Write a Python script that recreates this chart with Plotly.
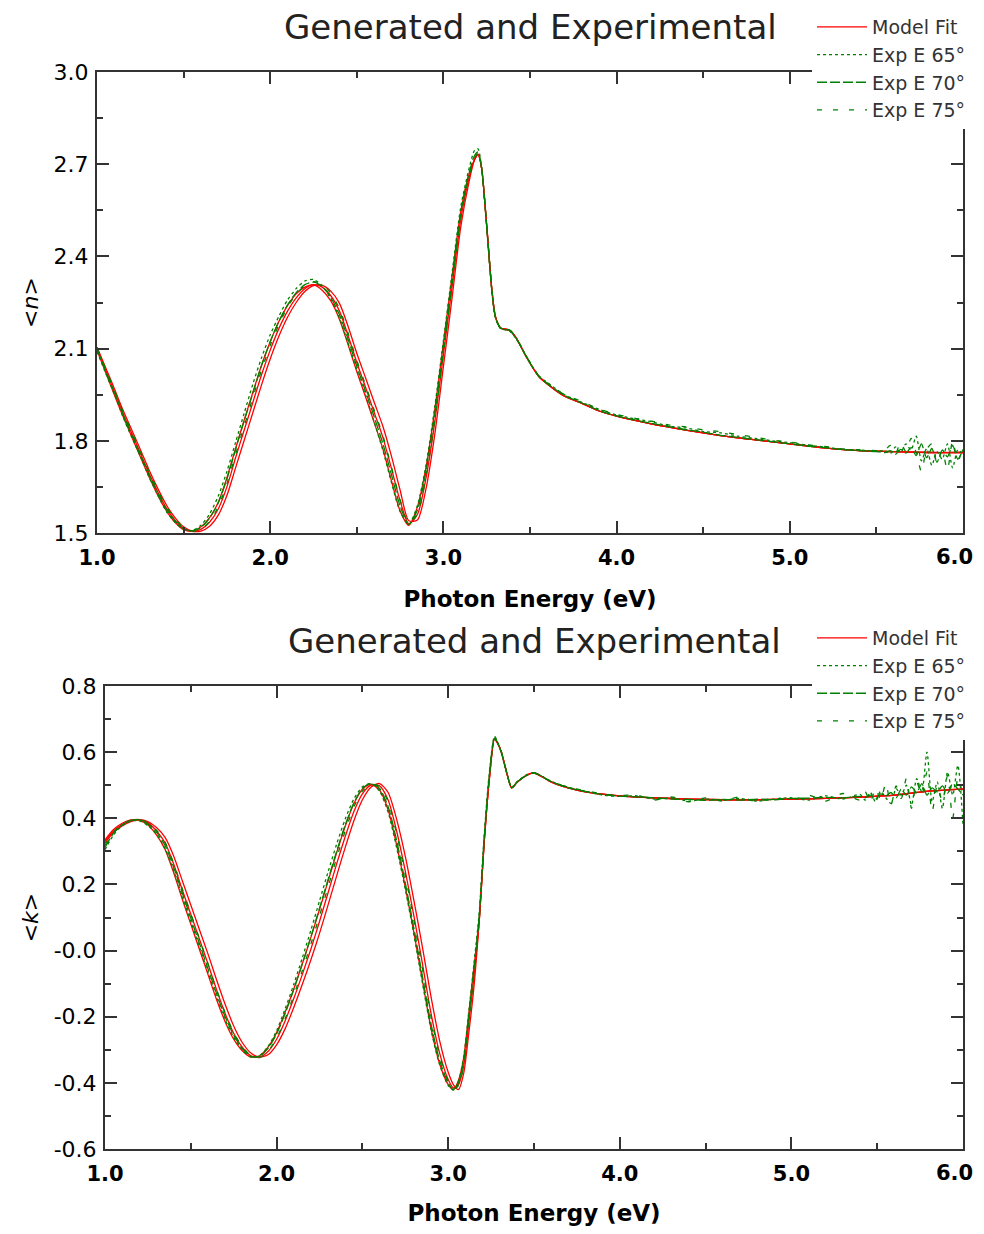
import plotly.graph_objects as go

# ---------------- top panel: <n> ----------------
E_fit_n = [1.00, 1.05, 1.10, 1.15, 1.20, 1.25, 1.30, 1.35, 1.40, 1.45, 1.50, 1.55, 1.60, 1.65, 1.70, 1.75, 1.80, 1.85, 1.90, 1.95,
           2.00, 2.05, 2.10, 2.15, 2.20, 2.25, 2.30, 2.35, 2.40, 2.45, 2.50, 2.55, 2.60, 2.65, 2.70, 2.75, 2.80, 2.85, 2.90, 2.95,
           3.00, 3.05, 3.10, 3.15, 3.18, 3.20, 3.22, 3.25, 3.28, 3.30, 3.33, 3.38, 3.42, 3.48, 3.55, 3.60, 3.70, 3.80, 3.90, 4.00,
           4.20, 4.40, 4.60, 4.80, 5.00, 5.20, 5.40, 5.60, 5.80, 6.00]

n_fit65_head = [2.095, 2.022, 1.950, 1.880, 1.814, 1.748, 1.684, 1.624, 1.573, 1.535, 1.511, 1.506, 1.520, 1.550, 1.600, 1.680, 1.775, 1.868, 1.958, 2.046,
                2.122, 2.188, 2.240, 2.278, 2.300, 2.307, 2.290, 2.255, 2.195, 2.112, 2.025, 1.944, 1.860, 1.775, 1.670, 1.572, 1.525, 1.585, 1.715, 1.900,
                2.118, 2.335, 2.545, 2.672]
n_fit70_head = [2.100, 2.030, 1.960, 1.890, 1.825, 1.760, 1.695, 1.635, 1.582, 1.542, 1.515, 1.505, 1.512, 1.535, 1.578, 1.650, 1.745, 1.835, 1.925, 2.015,
                2.095, 2.165, 2.222, 2.265, 2.295, 2.308, 2.300, 2.272, 2.222, 2.142, 2.055, 1.975, 1.893, 1.812, 1.710, 1.605, 1.530, 1.560, 1.680, 1.860,
                2.080, 2.300, 2.520, 2.660]
n_fit75_head = [2.105, 2.038, 1.970, 1.900, 1.836, 1.772, 1.706, 1.646, 1.592, 1.550, 1.520, 1.506, 1.506, 1.522, 1.558, 1.622, 1.712, 1.802, 1.892, 1.982,
                2.066, 2.140, 2.202, 2.250, 2.286, 2.305, 2.306, 2.287, 2.247, 2.172, 2.085, 2.006, 1.926, 1.848, 1.750, 1.640, 1.540, 1.542, 1.645, 1.820,
                2.042, 2.265, 2.495, 2.648]
n_fit_tail = [2.715, 2.732, 2.690, 2.500, 2.290, 2.205, 2.167, 2.160, 2.135, 2.072, 2.010, 1.985, 1.945, 1.922, 1.897, 1.880,
              1.855, 1.835, 1.817, 1.803, 1.790, 1.777, 1.768, 1.765, 1.762, 1.762]

n_fit65 = n_fit65_head + n_fit_tail
n_fit70 = n_fit70_head + n_fit_tail
n_fit75 = n_fit75_head + n_fit_tail

E_exp_n = [1.00, 1.05, 1.10, 1.15, 1.20, 1.25, 1.30, 1.35, 1.40, 1.45, 1.50, 1.55, 1.60, 1.65, 1.70, 1.75, 1.80, 1.85, 1.90, 1.95,
           2.00, 2.05, 2.10, 2.15, 2.20, 2.25, 2.30, 2.35, 2.40, 2.45, 2.50, 2.55, 2.60, 2.65, 2.70, 2.75, 2.80, 2.85, 2.90, 2.95,
           3.00, 3.05, 3.10, 3.15, 3.18, 3.20, 3.22, 3.25, 3.28, 3.30, 3.33, 3.38, 3.42, 3.48, 3.55, 3.60, 3.70, 3.80, 3.90, 4.00,
           4.10, 4.20, 4.30, 4.40, 4.50, 4.60, 4.70, 4.80, 4.90, 5.00, 5.10, 5.20, 5.30, 5.40, 5.50,
           5.55, 5.58, 5.61, 5.64, 5.67, 5.70, 5.73, 5.76, 5.79, 5.82, 5.85, 5.88, 5.91, 5.94, 5.97, 6.00]

n_exp65 = [2.090, 2.020, 1.952, 1.878, 1.812, 1.750, 1.682, 1.625, 1.570, 1.535, 1.512, 1.508, 1.525, 1.562, 1.620, 1.700, 1.795, 1.890, 1.985, 2.070,
           2.145, 2.205, 2.258, 2.295, 2.320, 2.325, 2.305, 2.262, 2.200, 2.118, 2.030, 1.950, 1.862, 1.770, 1.665, 1.570, 1.528, 1.590, 1.722, 1.910,
           2.125, 2.345, 2.560, 2.690, 2.745, 2.750, 2.690, 2.495, 2.285, 2.200, 2.165, 2.158, 2.132, 2.075, 2.012, 1.990, 1.950, 1.925, 1.902, 1.884,
           1.872, 1.862, 1.848, 1.842, 1.830, 1.826, 1.815, 1.808, 1.800, 1.794, 1.786, 1.780, 1.772, 1.770, 1.766,
           1.768, 1.758, 1.780, 1.762, 1.790, 1.770, 1.815, 1.735, 1.775, 1.720, 1.765, 1.740, 1.790, 1.712, 1.770, 1.755]
n_exp70 = [2.098, 2.028, 1.958, 1.886, 1.820, 1.755, 1.690, 1.630, 1.578, 1.540, 1.514, 1.507, 1.518, 1.548, 1.598, 1.675, 1.772, 1.865, 1.955, 2.045,
           2.122, 2.188, 2.242, 2.282, 2.308, 2.316, 2.302, 2.266, 2.210, 2.130, 2.042, 1.962, 1.878, 1.792, 1.690, 1.588, 1.528, 1.575, 1.702, 1.885,
           2.100, 2.322, 2.540, 2.675, 2.728, 2.740, 2.692, 2.498, 2.288, 2.204, 2.166, 2.160, 2.134, 2.072, 2.010, 1.986, 1.947, 1.923, 1.898, 1.881,
           1.868, 1.857, 1.846, 1.836, 1.828, 1.818, 1.811, 1.804, 1.797, 1.790, 1.783, 1.778, 1.772, 1.768, 1.765,
           1.762, 1.768, 1.756, 1.772, 1.760, 1.778, 1.752, 1.790, 1.745, 1.775, 1.730, 1.770, 1.748, 1.785, 1.740, 1.772]
n_exp75 = [2.102, 2.034, 1.965, 1.895, 1.830, 1.766, 1.700, 1.640, 1.586, 1.546, 1.517, 1.506, 1.512, 1.538, 1.585, 1.660, 1.755, 1.848, 1.940, 2.030,
           2.110, 2.178, 2.235, 2.277, 2.305, 2.318, 2.310, 2.280, 2.230, 2.150, 2.062, 1.982, 1.900, 1.818, 1.715, 1.608, 1.532, 1.562, 1.685, 1.866,
           2.085, 2.305, 2.525, 2.665, 2.720, 2.735, 2.690, 2.495, 2.292, 2.206, 2.168, 2.162, 2.136, 2.074, 2.012, 1.988, 1.950, 1.928, 1.903, 1.886,
           1.874, 1.864, 1.852, 1.845, 1.836, 1.830, 1.820, 1.812, 1.802, 1.796, 1.787, 1.782, 1.774, 1.771, 1.768,
           1.770, 1.785, 1.758, 1.795, 1.765, 1.808, 1.760, 1.700, 1.772, 1.790, 1.728, 1.768, 1.705, 1.800, 1.735, 1.778]

# ---------------- bottom panel: <k> ----------------
E_fit_k = [1.00, 1.05, 1.10, 1.15, 1.20, 1.25, 1.30, 1.35, 1.40, 1.45, 1.50, 1.55, 1.60, 1.65, 1.70, 1.75, 1.80, 1.85, 1.90, 1.95,
           2.00, 2.05, 2.10, 2.15, 2.20, 2.25, 2.30, 2.35, 2.40, 2.45, 2.50, 2.55, 2.60, 2.65, 2.70, 2.75, 2.80, 2.85, 2.90, 2.95, 3.00,
           3.03, 3.06, 3.09, 3.12, 3.15,
           3.18, 3.21, 3.24, 3.27, 3.29, 3.31, 3.34, 3.37, 3.40, 3.45, 3.50, 3.55, 3.60, 3.70, 3.80, 3.90, 4.00,
           4.20, 4.40, 4.60, 4.80, 5.00, 5.20, 5.40, 5.60, 5.80, 6.00]

k_fit65_head = [0.335, 0.366, 0.385, 0.395, 0.394, 0.380, 0.350, 0.306, 0.236, 0.156, 0.080, 0.004, -0.072, -0.148, -0.215, -0.268, -0.303, -0.322, -0.318, -0.292,
                -0.248, -0.186, -0.116, -0.040, 0.040, 0.124, 0.210, 0.296, 0.376, 0.444, 0.488, 0.503, 0.485, 0.425, 0.318, 0.192, 0.055, -0.092, -0.235, -0.342, -0.405,
                -0.420, -0.392, -0.325, -0.190, -0.050]
k_fit70_head = [0.330, 0.362, 0.381, 0.393, 0.396, 0.386, 0.362, 0.326, 0.262, 0.184, 0.110, 0.035, -0.040, -0.118, -0.190, -0.250, -0.292, -0.318, -0.322, -0.305,
                -0.268, -0.212, -0.145, -0.072, 0.005, 0.088, 0.175, 0.262, 0.345, 0.420, 0.474, 0.500, 0.498, 0.455, 0.360, 0.240, 0.105, -0.040, -0.190, -0.310, -0.390,
                -0.415, -0.405, -0.350, -0.220, -0.080]
k_fit75_head = [0.325, 0.358, 0.377, 0.390, 0.396, 0.390, 0.372, 0.342, 0.286, 0.212, 0.138, 0.064, -0.010, -0.088, -0.162, -0.228, -0.278, -0.310, -0.322, -0.315,
                -0.285, -0.236, -0.172, -0.102, -0.028, 0.052, 0.138, 0.226, 0.312, 0.392, 0.456, 0.494, 0.505, 0.478, 0.396, 0.285, 0.152, 0.010, -0.140, -0.272, -0.368,
                -0.405, -0.420, -0.372, -0.250, -0.110]
k_fit_tail = [0.085, 0.330, 0.520, 0.640, 0.625, 0.600, 0.540, 0.492, 0.508, 0.528, 0.537, 0.525, 0.510, 0.492, 0.480, 0.473, 0.468,
              0.462, 0.458, 0.456, 0.456, 0.458, 0.460, 0.464, 0.470, 0.482, 0.488]

k_fit65 = k_fit65_head + k_fit_tail
k_fit70 = k_fit70_head + k_fit_tail
k_fit75 = k_fit75_head + k_fit_tail

E_exp_k = [1.00, 1.05, 1.10, 1.15, 1.20, 1.25, 1.30, 1.35, 1.40, 1.45, 1.50, 1.55, 1.60, 1.65, 1.70, 1.75, 1.80, 1.85, 1.90, 1.95,
           2.00, 2.05, 2.10, 2.15, 2.20, 2.25, 2.30, 2.35, 2.40, 2.45, 2.50, 2.55, 2.60, 2.65, 2.70, 2.75, 2.80, 2.85, 2.90, 2.95, 3.00,
           3.03, 3.06, 3.09, 3.12, 3.15,
           3.18, 3.21, 3.24, 3.27, 3.29, 3.31, 3.34, 3.37, 3.40, 3.45, 3.50, 3.55, 3.60, 3.70, 3.80, 3.90, 4.00,
           4.10, 4.20, 4.30, 4.40, 4.50, 4.60, 4.70, 4.80, 4.90, 5.00, 5.10, 5.20, 5.30, 5.40,
           5.43, 5.46, 5.49, 5.52, 5.55, 5.58, 5.61, 5.64, 5.67, 5.70, 5.73, 5.76, 5.79, 5.82, 5.85, 5.88, 5.91, 5.94, 5.97, 6.00]

k_exp65 = [0.305, 0.350, 0.378, 0.392, 0.392, 0.378, 0.352, 0.308, 0.242, 0.165, 0.088, 0.012, -0.065, -0.140, -0.208, -0.262, -0.300, -0.322, -0.318, -0.290,
           -0.242, -0.176, -0.102, -0.022, 0.062, 0.150, 0.238, 0.322, 0.398, 0.458, 0.495, 0.505, 0.482, 0.418, 0.310, 0.185, 0.048, -0.098, -0.240, -0.345, -0.408,
           -0.422, -0.395, -0.322, -0.185, -0.040,
           0.110, 0.350, 0.540, 0.648, 0.628, 0.598, 0.538, 0.494, 0.510, 0.530, 0.538, 0.526, 0.512, 0.494, 0.482, 0.470, 0.466,
           0.468, 0.458, 0.462, 0.452, 0.458, 0.455, 0.460, 0.452, 0.458, 0.462, 0.455, 0.468, 0.458, 0.472,
           0.455, 0.478, 0.450, 0.482, 0.462, 0.445, 0.490, 0.470, 0.500, 0.440, 0.520, 0.480, 0.600, 0.450, 0.510, 0.430, 0.540, 0.470, 0.560, 0.380]
k_exp70 = [0.312, 0.355, 0.380, 0.394, 0.395, 0.383, 0.358, 0.318, 0.252, 0.175, 0.098, 0.022, -0.055, -0.130, -0.200, -0.256, -0.296, -0.320, -0.320, -0.296,
           -0.252, -0.190, -0.118, -0.040, 0.042, 0.128, 0.215, 0.300, 0.380, 0.446, 0.490, 0.505, 0.490, 0.435, 0.332, 0.205, 0.068, -0.078, -0.222, -0.332, -0.400,
           -0.420, -0.400, -0.335, -0.200, -0.055,
           0.100, 0.342, 0.532, 0.645, 0.626, 0.598, 0.540, 0.492, 0.508, 0.528, 0.537, 0.526, 0.511, 0.492, 0.481, 0.472, 0.467,
           0.465, 0.462, 0.458, 0.457, 0.454, 0.457, 0.455, 0.458, 0.456, 0.460, 0.461, 0.463, 0.462, 0.466,
           0.462, 0.470, 0.458, 0.474, 0.468, 0.478, 0.462, 0.488, 0.470, 0.495, 0.478, 0.505, 0.470, 0.492, 0.480, 0.498, 0.476, 0.505, 0.488, 0.470]
k_exp75 = [0.318, 0.358, 0.381, 0.394, 0.396, 0.386, 0.364, 0.328, 0.264, 0.188, 0.112, 0.036, -0.040, -0.118, -0.188, -0.248, -0.290, -0.318, -0.324, -0.304,
           -0.265, -0.206, -0.136, -0.060, 0.020, 0.105, 0.192, 0.280, 0.362, 0.434, 0.482, 0.503, 0.496, 0.450, 0.352, 0.228, 0.092, -0.055, -0.200, -0.318, -0.395,
           -0.418, -0.408, -0.348, -0.215, -0.070,
           0.092, 0.336, 0.526, 0.642, 0.627, 0.600, 0.541, 0.493, 0.509, 0.529, 0.538, 0.526, 0.510, 0.494, 0.483, 0.474, 0.469,
           0.470, 0.455, 0.465, 0.450, 0.462, 0.452, 0.465, 0.450, 0.462, 0.455, 0.470, 0.452, 0.475, 0.455,
           0.480, 0.448, 0.490, 0.455, 0.505, 0.440, 0.498, 0.460, 0.520, 0.430, 0.510, 0.470, 0.540, 0.420, 0.500, 0.450, 0.530, 0.400, 0.520, 0.470]

# ---------------- labels ----------------
TITLE = "Generated and Experimental"
X_TITLE = "Photon Energy (eV)"
N_TITLE = "&lt;<i>n</i>&gt;"
K_TITLE = "&lt;<i>k</i>&gt;"
N_TICKS = [1.5, 1.8, 2.1, 2.4, 2.7, 3.0]
N_TICK_TEXT = ["1.5", "1.8", "2.1", "2.4", "2.7", "3.0"]
K_TICKS = [-0.6, -0.4, -0.2, 0.0, 0.2, 0.4, 0.6, 0.8]
K_TICK_TEXT = ["-0.6", "-0.4", "-0.2", "-0.0", "0.2", "0.4", "0.6", "0.8"]
X_TICKS = [1.0, 2.0, 3.0, 4.0, 5.0, 6.0]
# the right-most label is drawn as a right-anchored annotation so it stays inside the page edge
X_TICK_TEXT = ["1.0", "2.0", "3.0", "4.0", "5.0", ""]
X_LAST_VAL = 6.0
X_LAST_TEXT = "6.0"
LEG_FIT = "Model Fit"
LEG_65 = "Exp E 65°"
LEG_70 = "Exp E 70°"
LEG_75 = "Exp E 75°"

RED = "#ff0000"
GREEN = "#008000"
AX = "#333333"
FONT = "DejaVu Sans, Arial, sans-serif"

W, H = 976, 1218  # page body adds an 8px margin

fig = go.Figure()


def add(x, y, xa, ya, color, dash, name, show, legend):
    fig.add_trace(go.Scatter(
        x=x, y=y, xaxis=xa, yaxis=ya, mode="lines", name=name,
        showlegend=show, legend=legend, hoverinfo="skip",
        line=dict(color=color, width=1.3, dash=dash, shape="spline", smoothing=0.7)))


for (xa, ya, leg, Ef, f65, f70, f75, Ee, e65, e70, e75) in [
        ("x", "y", "legend", E_fit_n, n_fit65, n_fit70, n_fit75, E_exp_n, n_exp65, n_exp70, n_exp75),
        ("x2", "y2", "legend2", E_fit_k, k_fit65, k_fit70, k_fit75, E_exp_k, k_exp65, k_exp70, k_exp75)]:
    add(Ef, f65, xa, ya, RED, "solid", LEG_FIT, True, leg)
    add(Ef, f70, xa, ya, RED, "solid", LEG_FIT, False, leg)
    add(Ef, f75, xa, ya, RED, "solid", LEG_FIT, False, leg)
    add(Ee, e65, xa, ya, GREEN, "3px,3px", LEG_65, True, leg)
    add(Ee, e70, xa, ya, GREEN, "10px,3px", LEG_70, True, leg)
    add(Ee, e75, xa, ya, GREEN, "5px,11px", LEG_75, True, leg)

axis_common = dict(showline=True, linecolor=AX, linewidth=2, mirror="ticks", ticks="inside",
                   ticklen=12, tickwidth=2, tickcolor=AX, showgrid=False, zeroline=False,
                   automargin=False, ticklabeloverflow="allow")
XTICK_FONT = dict(size=21, family=FONT, color="black", weight="bold")


def xaxis(domain, anchor):
    return dict(domain=domain, anchor=anchor, range=[1, 6], tickvals=X_TICKS, ticktext=X_TICK_TEXT,
                minor=dict(dtick=0.5, tick0=1, ticklen=6, tickwidth=2, tickcolor=AX, ticks="inside"),
                tickfont=XTICK_FONT, ticklabelstandoff=5,
                title=dict(text=X_TITLE, font=dict(size=23, family=FONT, color="black", weight="bold"), standoff=22),
                **axis_common)


def yaxis(domain, anchor, rng, vals, text, mdt, title):
    return dict(domain=domain, anchor=anchor, range=rng, tickvals=vals, ticktext=text,
                minor=dict(dtick=mdt, tick0=rng[0], ticklen=6, tickwidth=2, tickcolor=AX, ticks="inside"),
                tickfont=dict(size=22, family=FONT, color="black"), ticklabelstandoff=2,
                title=dict(text=title, font=dict(size=22, family=FONT, color="black"), standoff=9),
                **axis_common)


leg_common = dict(xanchor="left", yanchor="top", bgcolor="white", borderwidth=0, itemwidth=50,
                  font=dict(size=19, family=FONT, color="#333333"), tracegroupgap=0)

annotations = []
for xr, yr, dy in [("x", "y domain", 461), ("x2", "y2 domain", 463)]:
    annotations.append(dict(text=TITLE, xref=xr + " domain", yref=yr, x=0.5, y=1 + 45 / dy,
                            xanchor="center", yanchor="middle", showarrow=False,
                            font=dict(size=34, family=FONT, color="#222222")))
    annotations.append(dict(text=X_LAST_TEXT, xref=xr, yref=yr, x=X_LAST_VAL, y=0,
                            xanchor="right", yanchor="middle", xshift=12, yshift=-24,
                            showarrow=False, font=XTICK_FONT))

fig.update_layout(
    width=W, height=H, margin=dict(l=0, r=0, t=0, b=0),
    paper_bgcolor="white", plot_bgcolor="white",
    font=dict(family=FONT, color="black"),
    xaxis=xaxis([89 / W, 955 / W], "y"),
    yaxis=yaxis([1 - 525 / H, 1 - 64 / H], "x", [1.5, 3.0], N_TICKS, N_TICK_TEXT, 0.15, N_TITLE),
    xaxis2=xaxis([97 / W, 955 / W], "y2"),
    yaxis2=yaxis([1 - 1141 / H, 1 - 678 / H], "x2", [-0.6, 0.8], K_TICKS, K_TICK_TEXT, 0.1, K_TITLE),
    legend=dict(x=804 / W, y=1.0, **leg_common),
    legend2=dict(x=804 / W, y=1 - 611 / H, **leg_common),
    annotations=annotations,
)

fig.write_html("out.html")
